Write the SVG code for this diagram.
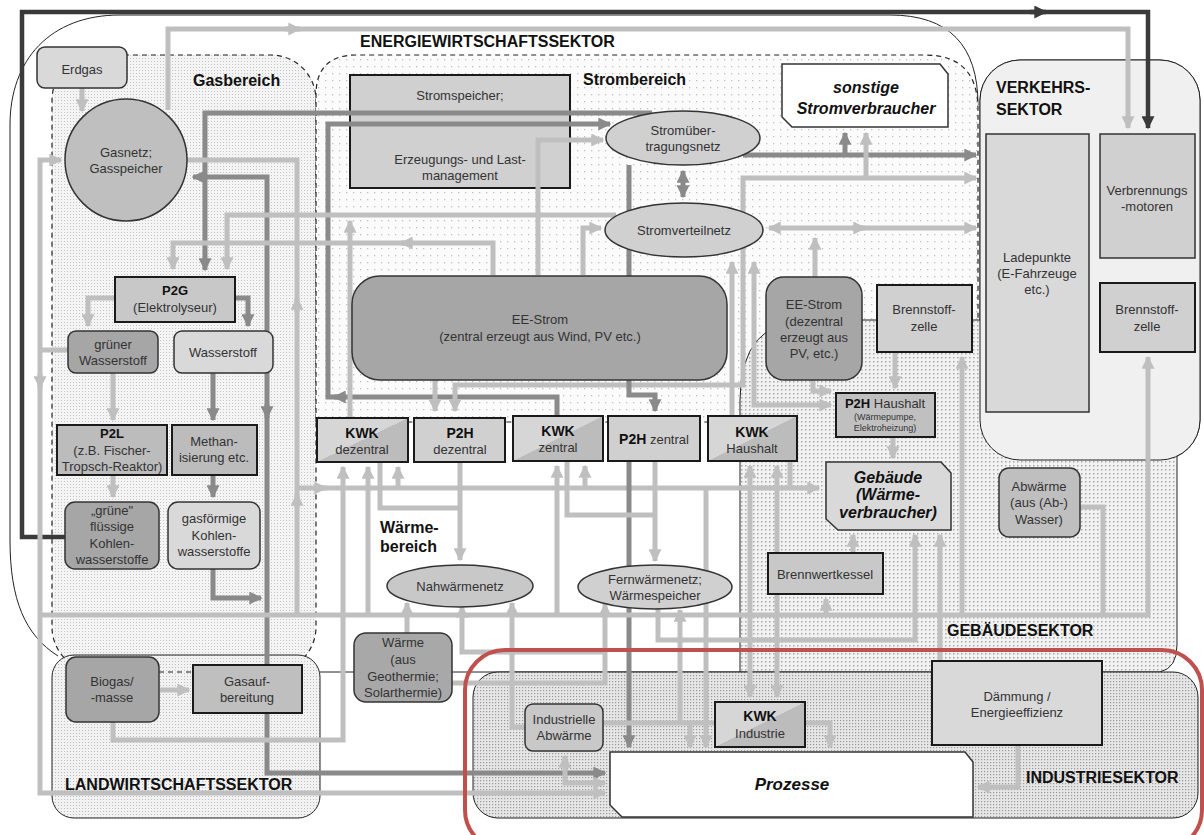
<svg xmlns="http://www.w3.org/2000/svg" width="1204" height="835" viewBox="0 0 1204 835">
<defs>
<style>
.L{fill:none;stroke:#bfbfbf;stroke-width:5}
.M{fill:none;stroke:#8a8a8a;stroke-width:5}
.D{fill:none;stroke:#3a3a3a;stroke-width:4.5}
.t{font-family:"Liberation Sans",Arial,sans-serif;font-size:13px;fill:#333;text-anchor:middle}
.s{font-size:9px}
.b{font-weight:bold;fill:#111}
.bi{font-weight:bold;font-style:italic;font-size:16px;fill:#111}
.h{font-family:"Liberation Sans",Arial,sans-serif;font-size:16px;font-weight:bold;fill:#111}
.bx{stroke:#1a1a1a;stroke-width:2}
.rb{stroke:#333;stroke-width:1.5}
.reg{stroke:#222;stroke-width:1}
.dash{stroke:#222;stroke-width:1.2;stroke-dasharray:5 4}
</style>
<pattern id="pGas" width="3" height="3" patternUnits="userSpaceOnUse"><rect width="3" height="3" fill="#f4f4f4"/><rect x="1" y="1" width="1" height="1" fill="#c4c4c4"/></pattern>
<pattern id="pStrom" width="7" height="7" patternUnits="userSpaceOnUse"><rect width="7" height="7" fill="#fbfbfb"/><rect x="3" y="3" width="1.3" height="1.3" fill="#c0c0c0"/></pattern>
<pattern id="pGeb" width="4" height="4" patternUnits="userSpaceOnUse"><rect width="4" height="4" fill="#f2f2f2"/><rect x="1" y="1" width="1.5" height="1.5" fill="#a8a8a8"/></pattern>
<pattern id="pInd" width="3" height="3" patternUnits="userSpaceOnUse"><rect width="3" height="3" fill="#e6e6e6"/><rect x="0" y="0" width="1.2" height="1.2" fill="#9a9a9a"/></pattern>
<pattern id="pLand" width="3" height="3" patternUnits="userSpaceOnUse"><rect width="3" height="3" fill="#f2f2f2"/><rect x="1" y="1" width="1" height="1" fill="#bdbdbd"/></pattern>
<linearGradient id="gKWK" x1="0" y1="0" x2="1" y2="1"><stop offset="0.5" stop-color="#d6d6d6"/><stop offset="0.5" stop-color="#bcbcbc"/></linearGradient>
<marker id="aL" viewBox="0 0 10 10" refX="9" refY="5" markerWidth="13" markerHeight="13" markerUnits="userSpaceOnUse" orient="auto-start-reverse"><path d="M0,0 L10,5 L0,10 z" fill="#bfbfbf"/></marker>
<marker id="aM" viewBox="0 0 10 10" refX="9" refY="5" markerWidth="13" markerHeight="13" markerUnits="userSpaceOnUse" orient="auto-start-reverse"><path d="M0,0 L10,5 L0,10 z" fill="#8a8a8a"/></marker>
<marker id="aD" viewBox="0 0 10 10" refX="9" refY="5" markerWidth="13" markerHeight="13" markerUnits="userSpaceOnUse" orient="auto-start-reverse"><path d="M0,0 L10,5 L0,10 z" fill="#3a3a3a"/></marker>
</defs>
<rect width="1204" height="835" fill="#fff"/>

<g id="regions">
<path class="reg" fill="none" d="M58,656 C25,635 10,600 10,540 V125 C10,60 50,15 120,15 H890 Q978,15 978,105"/>
<path class="reg" d="M320,672 H740"/>
<rect x="980" y="60" width="220" height="400" rx="40" fill="#f0f0f0" class="reg"/>
<rect x="52" y="55" width="264" height="617" rx="45" fill="url(#pGas)" class="dash"/>
<path d="M316,422 V95 Q316,55 356,55 H925 Q978,55 978,110 V422 Z" fill="url(#pStrom)" class="dash"/>
<path d="M740,672 V400 Q740,320 810,320 H1177 V645 Q1177,668 1160,672 Z" fill="url(#pGeb)" class="reg"/>
<rect x="980" y="60" width="220" height="400" rx="40" fill="#f0f0f0" class="reg"/>
<rect x="52" y="655" width="268" height="163" rx="22" fill="url(#pLand)" class="reg"/>
<path class="dash" d="M159,672 H193"/>
<rect x="473" y="672" width="725" height="146" rx="25" fill="url(#pInd)" class="reg"/>
</g>

<g id="n-stromspeicher">
<rect x="350" y="75" width="220" height="113" fill="#d0d0d0" class="bx"/>
<text class="t" x="460" y="100">Stromspeicher;</text>
<text class="t" x="460" y="164">Erzeugungs- und Last-</text>
<text class="t" x="460" y="180">management</text>
</g>

<g id="connectors">
<path class="D" d="M65,537 H22 V12 H1148 V128" marker-end="url(#aD)"/>
<path class="D" d="M1030,12 H1046" marker-end="url(#aD)"/>
<path class="L" d="M168,110 V29 H1128 V128" marker-end="url(#aL)"/>
<path class="L" d="M285,29 H300" marker-end="url(#aL)"/>
<path class="M" d="M652,113 H205 V270" marker-end="url(#aM)"/>
<path class="M" d="M557,416 V397 H328 V124 H610" marker-end="url(#aM)"/>
<path class="M" d="M346,397 H334" marker-end="url(#aM)"/>
<path class="L" d="M538,275 V140 H603" marker-end="url(#aL)"/>
<path class="L" d="M297,615 V160 H187"/>
<path class="L" d="M297,312 V298" marker-end="url(#aL)"/>
<path class="L" d="M297,508 V494" marker-end="url(#aL)"/>
<path class="L" d="M297,488 H819" marker-end="url(#aL)"/>
<path class="L" d="M314,488 H326" marker-end="url(#aL)"/>
<path class="M" d="M605,773 H267 V177 H193" marker-start="url(#aM)" marker-end="url(#aM)"/>
<path class="M" d="M267,404 V418" marker-end="url(#aM)"/>
<path class="M" d="M213,568 V598 H261" marker-end="url(#aM)"/>
<path class="L" d="M616,215 H227 V269" marker-end="url(#aL)"/>
<path class="L" d="M350,418 V221" marker-end="url(#aL)"/>
<path class="L" d="M493,275 V243 H173 V269" marker-end="url(#aL)"/>
<path class="L" d="M413,243 H401" marker-end="url(#aL)"/>
<path class="L" d="M583,275 V228 H601" marker-end="url(#aL)"/>
<path class="M" d="M743,155 H976" marker-end="url(#aM)"/>
<path class="M" d="M845,155 V133" marker-end="url(#aM)"/>
<path class="L" d="M976,178 H743 V385 H455 V411" marker-start="url(#aL)" marker-end="url(#aL)"/>
<path class="L" d="M866,178 V133" marker-end="url(#aL)"/>
<path class="L" d="M769,228 H976" marker-start="url(#aL)" marker-end="url(#aL)"/>
<path class="L" d="M852,228 H865" marker-end="url(#aL)"/>
<path class="L" d="M815,277 V238" marker-end="url(#aL)"/>
<path class="M" d="M683,171 V197" marker-start="url(#aM)" marker-end="url(#aM)"/>
<path class="L" d="M732,416 V262" marker-end="url(#aL)"/>
<path class="L" d="M831,405 H754 V262" marker-start="url(#aL)" marker-end="url(#aL)"/>
<path class="L" d="M813,380 V391 H831" marker-end="url(#aL)"/>
<path class="L" d="M895,352 V388" marker-end="url(#aL)"/>
<path class="L" d="M893,437 V458" marker-end="url(#aL)"/>
<path class="L" d="M790,461 V488"/>
<path class="L" d="M435,380 V411" marker-end="url(#aL)"/>
<path class="M" d="M629,165 V395 H655 V411" marker-end="url(#aM)"/>
<path class="M" d="M629,461 V747" marker-end="url(#aM)"/>
<path class="L" d="M82,88 V111" marker-end="url(#aL)"/>
<path class="L" d="M115,298 H88 V326" marker-end="url(#aL)"/>
<path class="M" d="M234,298 H248 V326" marker-end="url(#aM)"/>
<path class="L" d="M113,373 V420" marker-end="url(#aL)"/>
<path class="M" d="M213,373 V420" marker-end="url(#aM)"/>
<path class="L" d="M113,475 V497" marker-end="url(#aL)"/>
<path class="M" d="M213,475 V497" marker-end="url(#aM)"/>
<path class="L" d="M68,350 H40"/>
<path class="L" d="M605,793 H40 V160 H61" marker-start="url(#aL)" marker-end="url(#aL)"/>
<path class="L" d="M40,374 V388" marker-end="url(#aL)"/>
<path class="L" d="M40,615 H1148 V357" marker-end="url(#aL)"/>
<path class="L" d="M160,690 H189" marker-end="url(#aL)"/>
<path class="L" d="M113,722 V740 H343 V467" marker-end="url(#aL)"/>
<path class="L" d="M368,615 V467" marker-end="url(#aL)"/>
<path class="L" d="M398,488 V467" marker-end="url(#aL)"/>
<path class="L" d="M380,462 V508 H460"/>
<path class="L" d="M460,462 V560" marker-end="url(#aL)"/>
<path class="L" d="M557,615 V466" marker-end="url(#aL)"/>
<path class="L" d="M585,488 V466" marker-end="url(#aL)"/>
<path class="L" d="M567,461 V515 H655"/>
<path class="L" d="M655,461 V561" marker-end="url(#aL)"/>
<path class="L" d="M706,488 V747" marker-end="url(#aL)"/>
<path class="L" d="M407,633 V603" marker-end="url(#aL)"/>
<path class="L" d="M452,683 H605 V604" marker-end="url(#aL)"/>
<path class="L" d="M462,606 V652 H605" marker-start="url(#aL)"/>
<path class="L" d="M525,727 H512 V603" marker-end="url(#aL)"/>
<path class="L" d="M658,607 V640 H915 V535" marker-end="url(#aL)"/>
<path class="L" d="M680,723 V610" marker-end="url(#aL)"/>
<path class="L" d="M603,723 H715"/>
<path class="L" d="M690,723 V747" marker-end="url(#aL)"/>
<path class="L" d="M805,723 H830 V747" marker-end="url(#aL)"/>
<path class="L" d="M605,783 H565 V756" marker-start="url(#aL)" marker-end="url(#aL)"/>
<path class="L" d="M750,466 V697" marker-start="url(#aL)" marker-end="url(#aL)"/>
<path class="L" d="M777,466 V697" marker-start="url(#aL)" marker-end="url(#aL)"/>
<path class="L" d="M826,615 V599" marker-end="url(#aL)"/>
<path class="L" d="M853,553 V535" marker-end="url(#aL)"/>
<path class="L" d="M940,661 V535" marker-end="url(#aL)"/>
<path class="L" d="M962,615 V357" marker-end="url(#aL)"/>
<path class="L" d="M1080,507 H1103 V615"/>
<path class="L" d="M1018,745 V787 H978" marker-end="url(#aL)"/>
</g>

<g id="n-erdgas"><rect x="37" y="47" width="90" height="41" rx="8" fill="#d9d9d9" class="rb"/><text class="t" x="82" y="74">Erdgas</text></g>
<g id="n-gasnetz"><circle cx="126" cy="160" r="61" fill="#bfbfbf" class="rb"/><text class="t" x="126" y="157">Gasnetz;</text><text class="t" x="126" y="173">Gasspeicher</text></g>
<g id="n-sonstige"><polygon points="782,64 940,64 948,74 948,127 792,127 782,117" fill="#fff" class="rb"/><text class="t bi" x="866" y="93">sonstige</text><text class="t bi" x="866" y="114">Stromverbraucher</text></g>
<g id="n-stromuebertragung"><ellipse cx="683" cy="138" rx="77" ry="27" fill="#d0d0d0" class="rb"/><text class="t" x="683" y="135">Stromüber-</text><text class="t" x="683" y="151">tragungsnetz</text></g>
<g id="n-stromverteil"><ellipse cx="684" cy="230" rx="79" ry="27" fill="#d0d0d0" class="rb"/><text class="t" x="684" y="235">Stromverteilnetz</text></g>
<g id="n-ee-zentral"><rect x="352" y="276" width="375" height="104" rx="28" fill="#a6a6a6" class="rb"/><text class="t" x="540" y="324">EE-Strom</text><text class="t" x="540" y="341">(zentral erzeugt aus Wind, PV etc.)</text></g>
<g id="n-ee-dezentral"><rect x="766" y="277" width="96" height="103" rx="18" fill="#a6a6a6" class="rb"/><text class="t" x="814" y="309">EE-Strom</text><text class="t" x="814" y="326">(dezentral</text><text class="t" x="814" y="342">erzeugt aus</text><text class="t" x="814" y="358">PV, etc.)</text></g>
<g id="n-bz-gebaeude"><rect x="877" y="285" width="95" height="67" fill="#d0d0d0" class="bx"/><text class="t" x="924" y="314">Brennstoff-</text><text class="t" x="924" y="331">zelle</text></g>
<g id="n-p2h-haushalt"><rect x="836" y="393" width="99" height="44" fill="#c0c0c0" class="bx"/><text class="t" x="885" y="408"><tspan class="b">P2H</tspan> Haushalt</text><text class="t s" x="885" y="420">(Wärmepumpe,</text><text class="t s" x="885" y="431">Elektroheizung)</text></g>
<g id="n-gebaeude"><polygon points="826,462 941,462 951,473 951,530 838,530 826,519" fill="#d9d9d9" class="rb"/><text class="t bi" x="888" y="483">Gebäude</text><text class="t bi" x="888" y="500">(Wärme-</text><text class="t bi" x="888" y="518">verbraucher)</text></g>
<g id="n-brennwert"><rect x="768" y="553" width="115" height="41" fill="#c8c8c8" class="bx"/><text class="t" x="825" y="579">Brennwertkessel</text></g>
<g id="n-abwaerme"><rect x="999" y="468" width="81" height="69" rx="10" fill="#bfbfbf" class="rb"/><text class="t" x="1039" y="491">Abwärme</text><text class="t" x="1039" y="507">(aus (Ab-)</text><text class="t" x="1039" y="524">Wasser)</text></g>
<g id="n-ladepunkte"><rect x="986" y="134" width="103" height="278" fill="#d9d9d9" class="rb"/><text class="t" x="1037" y="262">Ladepunkte</text><text class="t" x="1037" y="278">(E-Fahrzeuge</text><text class="t" x="1037" y="294">etc.)</text></g>
<g id="n-verbrennung"><rect x="1100" y="134" width="95" height="124" fill="#d0d0d0" class="rb"/><text class="t" x="1147" y="195">Verbrennungs</text><text class="t" x="1147" y="211">-motoren</text></g>
<g id="n-bz-verkehr"><rect x="1100" y="283" width="95" height="69" fill="#d0d0d0" class="bx"/><text class="t" x="1147" y="314">Brennstoff-</text><text class="t" x="1147" y="331">zelle</text></g>
<g id="n-p2g"><rect x="115" y="277" width="120" height="45" fill="#c8c8c8" class="bx"/><text class="t b" x="175" y="295">P2G</text><text class="t" x="175" y="312">(Elektrolyseur)</text></g>
<g id="n-gruener-h2"><rect x="68" y="331" width="90" height="42" rx="8" fill="#a6a6a6" class="rb"/><text class="t" x="113" y="349">grüner</text><text class="t" x="113" y="365">Wasserstoff</text></g>
<g id="n-wasserstoff"><rect x="174" y="331" width="99" height="42" rx="8" fill="#d9d9d9" class="rb"/><text class="t" x="223" y="357">Wasserstoff</text></g>
<g id="n-p2l"><rect x="57" y="425" width="110" height="50" fill="#bcbcbc" class="bx"/><text class="t b" x="112" y="438">P2L</text><text class="t" x="112" y="455">(z.B. Fischer-</text><text class="t" x="112" y="471">Tropsch-Reaktor)</text></g>
<g id="n-methan"><rect x="172" y="425" width="85" height="50" fill="#bcbcbc" class="bx"/><text class="t" x="214" y="446">Methan-</text><text class="t" x="214" y="462">isierung etc.</text></g>
<g id="n-gruene-fl"><rect x="65" y="502" width="94" height="67" rx="10" fill="#a6a6a6" class="rb"/><text class="t" x="112" y="515">„grüne"</text><text class="t" x="112" y="531">flüssige</text><text class="t" x="112" y="548">Kohlen-</text><text class="t" x="112" y="564">wasserstoffe</text></g>
<g id="n-gasfoermig"><rect x="168" y="502" width="92" height="67" rx="10" fill="#d9d9d9" class="rb"/><text class="t" x="214" y="523">gasförmige</text><text class="t" x="214" y="540">Kohlen-</text><text class="t" x="214" y="556">wasserstoffe</text></g>
<g id="n-kwk-dez"><rect x="317" y="418" width="91" height="44" fill="url(#gKWK)" class="bx"/><text class="t b" x="362" y="438" style="font-size:14px">KWK</text><text class="t" x="362" y="454">dezentral</text></g>
<g id="n-p2h-dez"><rect x="414" y="418" width="91" height="44" fill="#d0d0d0" class="bx"/><text class="t b" x="460" y="438" style="font-size:14px">P2H</text><text class="t" x="460" y="454">dezentral</text></g>
<g id="n-kwk-zen"><rect x="513" y="416" width="90" height="45" fill="url(#gKWK)" class="bx"/><text class="t b" x="558" y="436" style="font-size:14px">KWK</text><text class="t" x="558" y="452">zentral</text></g>
<g id="n-p2h-zen"><rect x="608" y="416" width="92" height="45" fill="#d0d0d0" class="bx"/><text class="t" x="654" y="444"><tspan class="b" style="font-size:14px">P2H</tspan> zentral</text></g>
<g id="n-kwk-haus"><rect x="708" y="416" width="89" height="45" fill="url(#gKWK)" class="bx"/><text class="t b" x="752" y="437" style="font-size:14px">KWK</text><text class="t" x="752" y="453">Haushalt</text></g>
<g id="n-nahwaerme"><ellipse cx="460" cy="586" rx="73" ry="21" fill="#c8c8c8" class="rb"/><text class="t" x="460" y="591">Nahwärmenetz</text></g>
<g id="n-fernwaerme"><ellipse cx="655" cy="587" rx="77" ry="22" fill="#d0d0d0" class="rb"/><text class="t" x="655" y="584">Fernwärmenetz;</text><text class="t" x="655" y="600">Wärmespeicher</text></g>
<g id="n-waerme-geo"><rect x="354" y="633" width="98" height="69" rx="12" fill="#a8a8a8" class="rb"/><text class="t" x="403" y="647">Wärme</text><text class="t" x="403" y="664">(aus</text><text class="t" x="403" y="681">Geothermie;</text><text class="t" x="403" y="697">Solarthermie)</text></g>
<g id="n-biogas"><rect x="66" y="657" width="93" height="65" rx="10" fill="#a6a6a6" class="rb"/><text class="t" x="112" y="686">Biogas/</text><text class="t" x="112" y="702">-masse</text></g>
<g id="n-gasaufbereitung"><rect x="193" y="665" width="109" height="48" fill="#bfbfbf" class="bx"/><text class="t" x="247" y="686">Gasauf-</text><text class="t" x="247" y="702">bereitung</text></g>
<g id="n-ind-abwaerme"><rect x="525" y="704" width="78" height="47" rx="8" fill="#c8c8c8" class="rb"/><text class="t" x="564" y="724">Industrielle</text><text class="t" x="564" y="740">Abwärme</text></g>
<g id="n-kwk-ind"><rect x="715" y="702" width="90" height="45" fill="url(#gKWK)" class="bx"/><text class="t b" x="760" y="721" style="font-size:14px">KWK</text><text class="t" x="760" y="738">Industrie</text></g>
<g id="n-prozesse"><polygon points="610,752 965,752 973,762 973,817 622,817 610,805" fill="#fff" class="rb"/><text class="t bi" x="792" y="790" style="font-size:17px">Prozesse</text></g>
<g id="n-daemmung"><rect x="932" y="661" width="170" height="84" fill="#d9d9d9" class="bx"/><text class="t" x="1017" y="701">Dämmung /</text><text class="t" x="1017" y="717">Energieeffizienz</text></g>

<g id="labels">
<text class="h" x="360" y="47">ENERGIEWIRTSCHAFTSSEKTOR</text>
<text class="h" x="193" y="86">Gasbereich</text>
<text class="h" x="583" y="85">Strombereich</text>
<text class="h" x="996" y="93">VERKEHRS-</text>
<text class="h" x="996" y="115">SEKTOR</text>
<text class="h" x="380" y="533">Wärme-</text>
<text class="h" x="380" y="552">bereich</text>
<text class="h" x="947" y="636">GEBÄUDESEKTOR</text>
<text class="h" x="1026" y="783">INDUSTRIESEKTOR</text>
<text class="h" x="65" y="790">LANDWIRTSCHAFTSSEKTOR</text>
</g>

<rect x="465" y="650" width="737" height="200" rx="40" fill="none" stroke="#c0504d" stroke-width="4"/>
</svg>
